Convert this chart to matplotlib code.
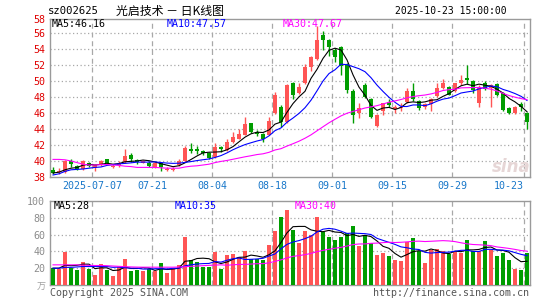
import numpy as np
import pandas as pd
import matplotlib
matplotlib.use("Agg")
import matplotlib.pyplot as plt

# ---------------- data ----------------
opens = [38.9, 38.6, 38.6, 40.0, 39.4, 39.0, 39.75, 39.1, 39.5, 40.2,
         39.2, 39.5, 39.9, 40.8, 40.1, 39.8, 39.8, 39.3, 39.7, 38.9,
         38.9, 39.5, 40.0, 41.5, 41.5, 41.3, 41.0, 40.5, 41.7, 41.4,
         42.4, 42.8, 43.25, 44.7, 43.6, 43.4, 43.3, 46.0, 46.8, 44.9,
         49.7, 48.5, 49.7, 51.8, 52.8, 55.75, 55.1, 53.9, 54.3, 52.0,
         48.7, 46.0, 49.5, 47.7, 44.4, 46.3, 47.4, 46.5, 46.6, 47.4,
         48.7, 47.45, 46.8, 47.1, 48.1, 49.1, 49.2, 48.8, 49.7, 50.4,
         50.0, 47.3, 49.8, 49.1, 49.6, 48.5, 46.6, 46.0, 47.1, 46.0]
closes = [38.5, 38.8, 40.0, 39.6, 39.0, 40.0, 39.4, 39.5, 40.0, 39.7,
          39.4, 39.8, 40.6, 40.3, 39.9, 40.0, 39.4, 39.8, 39.2, 39.0,
          39.05, 40.0, 41.6, 41.3, 41.2, 41.0, 40.4, 41.7, 41.5, 42.4,
          43.0, 43.4, 44.6, 43.6, 43.4, 42.8, 45.0, 48.25, 44.9, 49.5,
          48.25, 49.2, 51.7, 53.0, 55.1, 55.1, 54.3, 53.0, 51.9, 48.9,
          45.75, 46.6, 48.0, 45.5, 45.8, 47.2, 47.0, 46.7, 46.75, 48.8,
          47.7, 46.6, 47.1, 47.8, 49.1, 49.8, 48.3, 49.7, 50.1, 50.1,
          48.85, 49.3, 49.0, 49.5, 48.25, 46.4, 46.0, 46.8, 46.7, 44.9]
highs = [39.2, 39.1, 40.1, 40.2, 39.5, 40.1, 39.9, 39.6, 40.1, 40.3,
         39.6, 40.0, 41.5, 41.0, 40.3, 40.1, 40.0, 39.9, 39.8, 39.2,
         39.3, 40.2, 41.9, 42.2, 41.9, 41.4, 41.1, 42.3, 41.9, 42.7,
         43.6, 44.0, 45.5, 44.8, 43.9, 43.5, 45.5, 48.6, 47.0, 49.6,
         49.9, 49.7, 52.1, 53.1, 56.9, 56.25, 55.3, 54.1, 54.4, 52.2,
         49.0, 47.3, 49.7, 47.9, 45.9, 47.3, 47.7, 47.0, 47.2, 49.1,
         49.8, 47.6, 47.3, 47.9, 49.8, 50.3, 49.4, 49.8, 50.7, 52.0,
         50.1, 49.5, 50.0, 49.6, 49.7, 48.6, 46.8, 46.9, 47.4, 46.1]
lows = [38.4, 38.4, 38.5, 39.3, 38.9, 38.9, 39.2, 38.7, 39.4, 39.6,
        39.1, 39.3, 39.8, 39.9, 39.6, 39.7, 39.2, 39.1, 38.8, 38.7,
        38.7, 39.4, 39.9, 41.0, 40.9, 40.8, 40.2, 40.4, 41.1, 41.3,
        42.3, 42.7, 43.2, 43.5, 43.1, 42.4, 43.2, 45.9, 44.3, 44.8,
        47.8, 48.4, 49.6, 51.2, 52.6, 53.9, 53.1, 52.4, 50.8, 48.5,
        44.75, 45.4, 47.9, 45.4, 44.2, 45.7, 46.8, 46.0, 46.3, 47.2,
        47.5, 46.4, 46.5, 46.3, 48.0, 49.0, 48.2, 48.6, 49.5, 49.6,
        48.5, 46.8, 48.9, 46.8, 48.1, 46.3, 45.9, 45.9, 46.2, 44.0]
volumes = [20.4, 19.2, 39.1, 20.4, 18.1, 27.2, 19.2, 12.5, 25.2, 18.1,
           11.3, 22.0, 30.4, 16.5, 18.1, 16.5, 19.2, 16.5, 26.0, 14.1,
           19.2, 24.4, 57.7, 29.2, 27.2, 21.2, 21.2, 39.1, 19.2, 36.3,
           37.1, 33.1, 40.3, 31.2, 31.2, 29.2, 48.2, 63.7, 80.8, 88.7,
           65.7, 49.8, 63.7, 60.1, 80.8, 62.9, 57.7, 53.8, 57.7, 61.7,
           70.0, 46.2, 60.1, 50.2, 35.5, 38.3, 34.3, 29.2, 28.4, 51.0,
           55.4, 40.3, 26.4, 41.1, 42.3, 40.3, 37.1, 40.3, 38.3, 53.0,
           40.3, 39.9, 51.8, 41.1, 35.1, 37.9, 29.2, 19.2, 17.3, 37.9]

# moving-average values at the left edge (they depend on days before the chart)
ma5_head = [38.5, 38.6, 38.9, 39.1]
ma10_head = [38.25, 38.4, 38.7, 38.9, 38.95, 39.0, 39.1, 39.2, 39.25]
ma30_head = [40.2, 40.2, 40.15, 40.0, 39.8, 39.6, 39.5, 39.5, 39.55, 39.55,
             39.5, 39.45, 39.35, 39.3, 39.2, 39.2, 39.2, 39.2, 39.15, 39.1,
             39.1, 39.1, 39.25, 39.35, 39.4, 39.5, 39.6, 39.8, 39.95]
vma5_head = [20.0, 20.0, 23.5, 23.0]
vma10_head = [20.0, 20.0, 21.0, 21.0, 21.5, 22.0, 22.0, 22.0, 22.0]
vma30_head = [24.0, 24.0, 24.0, 24.0, 24.0, 23.6, 23.4, 23.2, 23.2, 23.0,
              22.6, 22.2, 21.8, 21.5, 21.3, 21.2, 21.2, 21.2, 21.2, 21.2,
              21.2, 21.4, 21.8, 22.2, 22.6, 23.0, 23.4, 23.7, 24.0]

date_labels = ["2025-07-07", "07-21", "08-04", "08-18", "09-01", "09-15", "09-29", "10-23"]
date_idx = [7, 17, 27, 37, 47, 57, 67, 79]
price_ticks = [38, 40, 42, 44, 46, 48, 50, 52, 54, 56]
vol_ticks = [20, 40, 60, 80, 100]

title_code = "sz002625"
title_name = "光启技术 － 日K线图"
title_time = "2025-10-23 15:00:00"

# ---------------- helpers ----------------
W, H = 545, 300
RED = "#ff5555"
GREEN = "#009d00"
GRID = "#a8a8a8"
MONO = "DejaVu Sans Mono"


def ma(values, n, head):
    s = pd.Series(values).rolling(n).mean().to_numpy()
    s[:len(head)] = head
    return s


def ftext(x, y, s, **kw):
    kw.setdefault("family", MONO)
    kw.setdefault("fontsize", 7.2)
    kw.setdefault("va", "center")
    fig.text(x / W, 1 - y / H, s, **kw)


n = len(closes)
x = np.arange(n)
o = np.array(opens); c = np.array(closes)
hi = np.array(highs); lo = np.array(lows)
up = c >= o
cols = np.where(up, RED, GREEN)

fig = plt.figure(figsize=(W / 100, H / 100), dpi=100)
fig.patch.set_facecolor("white")

axp = fig.add_axes([50 / W, 1 - 177 / H, 480 / W, 158 / H])
axv = fig.add_axes([50 / W, 1 - 285 / H, 480 / W, 84 / H])

for ax in (axp, axv):
    ax.set_xlim(-0.5, n - 0.5)
    for sp in ax.spines.values():
        sp.set_color("#9a9a9a")
        sp.set_linewidth(1.0)
    ax.set_xticks([])
    ax.tick_params(axis="y", length=0, pad=3.5, labelsize=7.2)
    for di in date_idx:
        ax.axvline(di - 0.5, color=GRID, lw=0.9, ls=(0, (4, 3)), zorder=0)

# ---- price panel ----
axp.set_ylim(38, 57.75)
for v in price_ticks[1:]:
    axp.axhline(v, color=GRID, lw=0.9, ls=(0, (1, 2)), zorder=0)
axp.set_yticks(price_ticks + [57.75])
axp.set_yticklabels([str(v) for v in price_ticks] + ["58"], family=MONO, color="#e00000")

axp.vlines(x, lo, hi, colors=cols, lw=1.0, zorder=3)
body_h = np.maximum(np.abs(c - o), 0.1)
axp.bar(x, body_h, bottom=np.minimum(o, c), width=0.82, color=cols, lw=0, zorder=4)

pm5 = ma(closes, 5, ma5_head)
pm10 = ma(closes, 10, ma10_head)
pm30 = ma(closes, 30, ma30_head)
axp.plot(x, pm5, color="black", lw=0.8, zorder=5)
axp.plot(x, pm10, color="#0000ff", lw=0.8, zorder=5)
axp.plot(x, pm30, color="#ff00ff", lw=0.8, zorder=5)

axp.text(76.3, 39.2, "sina", fontsize=12, fontstyle="italic", fontweight="bold",
         color="#e6d6d6", ha="center", va="center", zorder=1)

# ---- volume panel ----
axv.set_ylim(0, 100)
for v in vol_ticks[:-1]:
    axv.axhline(v, color=GRID, lw=0.9, ls=(0, (1, 2)), zorder=0)
axv.set_yticks(vol_ticks)
axv.set_yticklabels([str(v) for v in vol_ticks], family=MONO, color="#8c8c8c")
axv.bar(x, volumes, width=0.82, color=cols, lw=0, zorder=3)
vm5 = ma(volumes, 5, vma5_head)
vm10 = ma(volumes, 10, vma10_head)
vm30 = ma(volumes, 30, vma30_head)
axv.plot(x, vm5, color="black", lw=0.8, zorder=5)
axv.plot(x, vm10, color="#0000ff", lw=0.8, zorder=5)
axv.plot(x, vm30, color="#ff00ff", lw=0.8, zorder=5)

# ---- texts ----
ftext(48, 11, title_code, color="black", fontsize=7.6)
ftext(116, 11, title_name, family=["Noto Sans CJK SC", "DejaVu Sans"], fontsize=8.6, color="black")
ftext(507, 11, title_time, color="black", ha="right", fontsize=7.0)

ftext(52, 24, f"MA5:{pm5[-1] + 1e-9:.2f}", color="black")
ftext(167, 24, f"MA10:{pm10[-1] + 1e-9:.2f}", color="#0000ff")
ftext(283, 24, f"MA30:{pm30[-1] + 1e-9:.2f}", color="#ff00ff")

ftext(54, 206, f"MA5:{vm5[-1]:.0f}", color="black")
ftext(175, 206, f"MA10:{vm10[-1]:.0f}", color="#0000ff")
ftext(295, 206, f"MA30:{vm30[-1]:.0f}", color="#ff00ff")

# date labels
for lab, di in zip(date_labels, date_idx):
    px = 50 + 6 * di
    ha = "right" if di == date_idx[-1] else "center"
    ftext(px, 186, lab, color="#1877c9", ha=ha)

ftext(46, 287, "万", family=["Noto Sans CJK SC", "DejaVu Sans"], color="#a0a0a0",
      ha="right", fontsize=6.5)
ftext(50, 293, "Copyright 2025 SINA.COM", color="#555555")
ftext(529, 293, "http://finance.sina.com.cn", color="#555555", ha="right")

fig.savefig("out.png", dpi=100, facecolor="white")
